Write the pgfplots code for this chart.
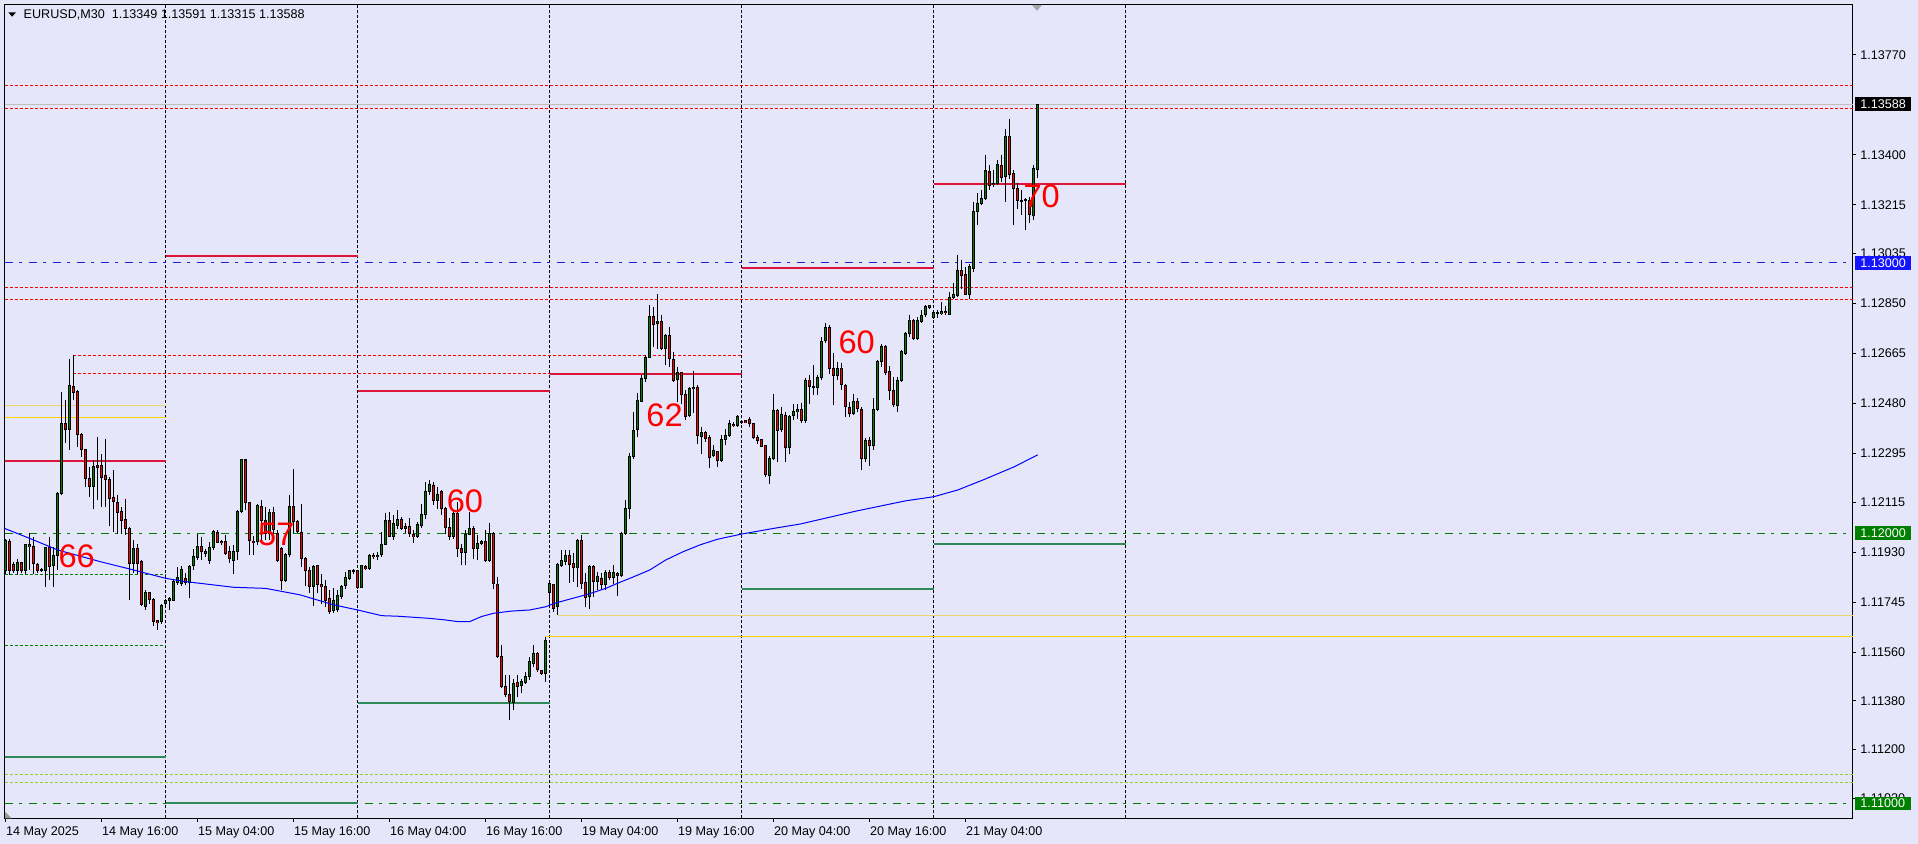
\documentclass[border=0pt]{standalone}
\usepackage{pgfplots}
\pgfplotsset{compat=1.18}
\usepackage{pgfplotstable}
\usepackage{fontspec}
\setmainfont{Liberation Sans}
\definecolor{bg}{RGB}{230,230,250}
\definecolor{mtgreen}{RGB}{0,128,0}
\definecolor{mtred}{RGB}{255,0,0}
\definecolor{crim}{RGB}{220,20,60}
\definecolor{seag}{RGB}{46,139,87}
\definecolor{ygreen}{RGB}{154,205,50}
\definecolor{goldA}{RGB}{255,210,0}
\definecolor{goldB}{RGB}{235,212,110}
\definecolor{lineblue}{RGB}{30,30,210}
\definecolor{boxblue}{RGB}{20,20,255}
\definecolor{boxgreen}{RGB}{0,128,0}

\pgfplotstableread{
x o h l c
-40 1.11864 1.11978 1.11852 1.11975
-37 1.11862 1.11907 1.11846 1.11891
-35 1.11864 1.11963 1.11852 1.11957
-34 1.11951 1.12002 1.11864 1.11957
-31 1.11864 1.11870 1.11858 1.11866
-30 1.11864 1.11951 1.11803 1.11948
-28 1.11883 1.11951 1.11803 1.11920
-27 1.11920 1.12154 1.11864 1.12148
-26 1.12148 1.12524 1.12142 1.12407
-24 1.12385 1.12647 1.12308 1.12545
-18 1.12172 1.12271 1.12092 1.12249
-8 1.11889 1.11975 1.11852 1.11944
-5 1.11729 1.11790 1.11716 1.11784
-1 1.11673 1.11741 1.11667 1.11735
0 1.11741 1.11759 1.11735 1.11753
1 1.11753 1.11766 1.11716 1.11759
2 1.11753 1.11827 1.11753 1.11821
3 1.11817 1.11877 1.11809 1.11837
4 1.11815 1.11877 1.11803 1.11867
6 1.11819 1.11883 1.11759 1.11880
7 1.11880 1.11944 1.11864 1.11913
8 1.11913 1.12000 1.11901 1.11951
10 1.11926 1.11944 1.11913 1.11934
11 1.11901 1.11969 1.11889 1.11948
12 1.11948 1.12012 1.11938 1.12006
17 1.11901 1.11957 1.11852 1.11934
18 1.11934 1.12086 1.11901 1.12080
19 1.12080 1.12277 1.12074 1.12275
23 1.11969 1.12111 1.11957 1.12101
26 1.12000 1.12092 1.11975 1.12076
30 1.11827 1.11926 1.11821 1.11920
31 1.11920 1.12142 1.11913 1.12098
37 1.11805 1.11883 1.11729 1.11879
42 1.11714 1.11796 1.11704 1.11753
43 1.11716 1.11790 1.11710 1.11768
44 1.11766 1.11809 1.11759 1.11805
45 1.11805 1.11858 1.11796 1.11837
46 1.11833 1.11864 1.11827 1.11861
47 1.11861 1.11870 1.11852 1.11864
49 1.11800 1.11883 1.11796 1.11881
51 1.11870 1.11926 1.11864 1.11920
53 1.11916 1.11932 1.11901 1.11920
54 1.11920 1.12006 1.11913 1.11960
55 1.11960 1.12074 1.11957 1.12049
57 1.11988 1.12068 1.11975 1.12037
58 1.12031 1.12086 1.12018 1.12052
60 1.12018 1.12037 1.12000 1.12027
63 1.11987 1.12043 1.11981 1.12031
64 1.12031 1.12111 1.12022 1.12071
65 1.12071 1.12191 1.12055 1.12154
66 1.12154 1.12197 1.12142 1.12179
68 1.12123 1.12172 1.12092 1.12142
72 1.11987 1.12086 1.11981 1.12074
75 1.11929 1.12012 1.11883 1.11997
76 1.11997 1.12080 1.11994 1.12018
78 1.11944 1.11994 1.11903 1.11963
79 1.11963 1.11975 1.11957 1.11971
81 1.11901 1.12037 1.11895 1.12000
87 1.11377 1.11463 1.11346 1.11447
89 1.11439 1.11463 1.11408 1.11451
90 1.11447 1.11488 1.11445 1.11470
91 1.11470 1.11544 1.11457 1.11525
92 1.11521 1.11587 1.11507 1.11556
95 1.11482 1.11618 1.11451 1.11605
96 1.11780 1.11827 1.11729 1.11815
98 1.11729 1.11891 1.11698 1.11886
99 1.11883 1.11938 1.11876 1.11901
100 1.11898 1.11938 1.11883 1.11920
103 1.11876 1.11981 1.11802 1.11973
106 1.11765 1.11883 1.11722 1.11876
108 1.11821 1.11858 1.11790 1.11840
110 1.11809 1.11864 1.11790 1.11855
112 1.11836 1.11883 1.11815 1.11855
114 1.11846 1.12006 1.11840 1.12000
115 1.12000 1.12123 1.11994 1.12092
116 1.12092 1.12296 1.12055 1.12284
117 1.12284 1.12450 1.12277 1.12382
118 1.12382 1.12518 1.12357 1.12490
119 1.12490 1.12586 1.12487 1.12573
120 1.12573 1.12660 1.12561 1.12651
121 1.12651 1.12845 1.12647 1.12801
123 1.12777 1.12888 1.12684 1.12785
125 1.12684 1.12740 1.12623 1.12734
128 1.12567 1.12616 1.12487 1.12595
131 1.12434 1.12542 1.12431 1.12536
132 1.12536 1.12602 1.12444 1.12542
134 1.12361 1.12394 1.12296 1.12376
137 1.12287 1.12327 1.12284 1.12305
139 1.12269 1.12364 1.12265 1.12348
140 1.12348 1.12388 1.12327 1.12361
141 1.12361 1.12419 1.12357 1.12404
143 1.12400 1.12440 1.12394 1.12434
151 1.12216 1.12284 1.12182 1.12277
152 1.12277 1.12515 1.12271 1.12456
154 1.12382 1.12468 1.12376 1.12438
156 1.12320 1.12438 1.12296 1.12434
157 1.12434 1.12478 1.12419 1.12450
158 1.12450 1.12478 1.12425 1.12458
160 1.12419 1.12573 1.12407 1.12567
163 1.12540 1.12586 1.12512 1.12577
164 1.12577 1.12728 1.12567 1.12712
165 1.12712 1.12777 1.12703 1.12762
168 1.12583 1.12635 1.12567 1.12610
172 1.12444 1.12518 1.12438 1.12487
175 1.12278 1.12351 1.12265 1.12345
177 1.12327 1.12500 1.12308 1.12459
178 1.12459 1.12641 1.12454 1.12635
179 1.12635 1.12703 1.12617 1.12691
183 1.12475 1.12580 1.12450 1.12567
184 1.12567 1.12678 1.12561 1.12672
185 1.12666 1.12746 1.12660 1.12740
186 1.12740 1.12808 1.12728 1.12789
188 1.12722 1.12802 1.12715 1.12789
189 1.12786 1.12826 1.12780 1.12808
190 1.12808 1.12845 1.12802 1.12839
191 1.12837 1.12845 1.12832 1.12842
192 1.12800 1.12820 1.12795 1.12817
194 1.12814 1.12857 1.12808 1.12820
196 1.12811 1.12894 1.12808 1.12873
197 1.12873 1.12925 1.12866 1.12882
198 1.12882 1.13030 1.12876 1.12974
201 1.12885 1.12996 1.12869 1.12989
202 1.12980 1.13227 1.12968 1.13190
203 1.13190 1.13258 1.13141 1.13221
204 1.13221 1.13270 1.13215 1.13239
205 1.13239 1.13400 1.13233 1.13344
208 1.13295 1.13381 1.13289 1.13363
210 1.13319 1.13498 1.13227 1.13467
217 1.13178 1.13363 1.13159 1.13350
218 1.13349 1.13591 1.13315 1.13588
}\bull

\pgfplotstableread{
x o h l c
-39 1.11972 1.11978 1.11846 1.11864
-38 1.11886 1.11895 1.11852 1.11864
-36 1.11891 1.11895 1.11852 1.11862
-33 1.11951 1.11988 1.11852 1.11889
-32 1.11886 1.11889 1.11852 1.11862
-29 1.11948 1.11988 1.11827 1.11877
-25 1.12407 1.12493 1.12333 1.12385
-23 1.12545 1.12660 1.12493 1.12520
-22 1.12524 1.12530 1.12320 1.12364
-21 1.12364 1.12370 1.12283 1.12311
-20 1.12311 1.12314 1.12172 1.12203
-19 1.12203 1.12246 1.12135 1.12172
-17 1.12253 1.12357 1.12123 1.12246
-16 1.12253 1.12296 1.12098 1.12209
-15 1.12212 1.12351 1.12098 1.12200
-14 1.12200 1.12209 1.12025 1.12129
-13 1.12135 1.12234 1.12006 1.12117
-12 1.12117 1.12142 1.12000 1.12080
-11 1.12080 1.12098 1.12000 1.12049
-10 1.12052 1.12129 1.11994 1.12018
-9 1.12018 1.12025 1.11753 1.11889
-7 1.11944 1.11963 1.11852 1.11889
-6 1.11895 1.11901 1.11729 1.11735
-4 1.11780 1.11784 1.11741 1.11756
-3 1.11756 1.11759 1.11655 1.11673
-2 1.11676 1.11679 1.11642 1.11671
5 1.11833 1.11852 1.11809 1.11819
9 1.11953 1.11988 1.11901 1.11932
13 1.12002 1.12012 1.11963 1.11965
14 1.11969 1.11975 1.11957 1.11965
15 1.11970 1.11994 1.11920 1.11926
16 1.11932 1.11953 1.11891 1.11907
20 1.12271 1.12277 1.12086 1.12113
21 1.12115 1.12117 1.11920 1.11975
22 1.11972 1.11988 1.11920 1.11968
24 1.12101 1.12123 1.11975 1.12049
25 1.12049 1.12098 1.11975 1.12000
27 1.12076 1.12098 1.11988 1.12012
28 1.12000 1.12012 1.11895 1.11901
29 1.11944 1.11951 1.11790 1.11827
32 1.12098 1.12238 1.12000 1.12043
33 1.12043 1.12049 1.12000 1.12006
34 1.12006 1.12111 1.11877 1.11907
35 1.11907 1.11913 1.11803 1.11864
36 1.11864 1.11877 1.11778 1.11803
38 1.11879 1.11883 1.11778 1.11809
39 1.11809 1.11852 1.11741 1.11803
40 1.11806 1.11827 1.11729 1.11753
41 1.11759 1.11790 1.11701 1.11710
48 1.11861 1.11864 1.11796 1.11800
50 1.11877 1.11883 1.11864 1.11870
52 1.11920 1.11926 1.11907 1.11916
56 1.12049 1.12080 1.11985 1.11988
59 1.12053 1.12061 1.12012 1.12018
61 1.12027 1.12055 1.11987 1.12002
62 1.11994 1.12012 1.11963 1.11987
67 1.12179 1.12191 1.12105 1.12123
69 1.12154 1.12160 1.12068 1.12092
70 1.12092 1.12098 1.12000 1.12022
71 1.12022 1.12055 1.11975 1.11987
73 1.12074 1.12117 1.11913 1.11944
74 1.11944 1.11963 1.11883 1.11929
77 1.12018 1.12027 1.11907 1.11944
80 1.11971 1.12012 1.11895 1.11901
82 1.12000 1.12006 1.11796 1.11815
83 1.11812 1.11839 1.11538 1.11544
84 1.11546 1.11587 1.11427 1.11433
85 1.11433 1.11476 1.11396 1.11402
86 1.11402 1.11476 1.11309 1.11377
88 1.11447 1.11476 1.11396 1.11435
93 1.11556 1.11562 1.11488 1.11494
94 1.11492 1.11494 1.11476 1.11482
97 1.11812 1.11815 1.11710 1.11722
101 1.11920 1.11938 1.11815 1.11886
102 1.11891 1.11926 1.11821 1.11876
104 1.11975 1.11994 1.11796 1.11815
105 1.11817 1.11852 1.11729 1.11765
107 1.11876 1.11883 1.11766 1.11821
109 1.11834 1.11852 1.11790 1.11809
111 1.11855 1.11864 1.11827 1.11836
113 1.11852 1.11858 1.11766 1.11846
122 1.12801 1.12838 1.12690 1.12773
124 1.12785 1.12808 1.12678 1.12684
126 1.12734 1.12764 1.12616 1.12647
127 1.12645 1.12672 1.12561 1.12567
129 1.12595 1.12598 1.12481 1.12512
130 1.12515 1.12530 1.12419 1.12434
133 1.12540 1.12549 1.12333 1.12361
135 1.12372 1.12380 1.12339 1.12351
136 1.12355 1.12364 1.12240 1.12281
138 1.12302 1.12306 1.12246 1.12269
142 1.12404 1.12413 1.12394 1.12400
144 1.12413 1.12415 1.12407 1.12410
145 1.12417 1.12419 1.12407 1.12410
146 1.12419 1.12431 1.12394 1.12407
147 1.12407 1.12407 1.12351 1.12355
148 1.12357 1.12364 1.12333 1.12343
149 1.12348 1.12351 1.12320 1.12323
150 1.12324 1.12327 1.12210 1.12216
153 1.12456 1.12462 1.12265 1.12382
155 1.12438 1.12450 1.12265 1.12320
159 1.12458 1.12481 1.12407 1.12419
161 1.12567 1.12586 1.12481 1.12543
162 1.12543 1.12623 1.12512 1.12540
166 1.12762 1.12771 1.12592 1.12610
167 1.12610 1.12666 1.12475 1.12583
169 1.12610 1.12629 1.12530 1.12549
170 1.12549 1.12555 1.12432 1.12469
171 1.12466 1.12487 1.12432 1.12444
173 1.12487 1.12500 1.12450 1.12462
174 1.12459 1.12469 1.12234 1.12278
176 1.12345 1.12357 1.12247 1.12327
180 1.12691 1.12697 1.12586 1.12598
181 1.12598 1.12617 1.12493 1.12530
182 1.12530 1.12580 1.12469 1.12475
187 1.12789 1.12792 1.12715 1.12722
193 1.12816 1.12826 1.12799 1.12814
195 1.12820 1.12841 1.12808 1.12816
199 1.12974 1.13011 1.12906 1.12956
200 1.12956 1.12987 1.12882 1.12885
206 1.13340 1.13363 1.13270 1.13289
207 1.13295 1.13344 1.13282 1.13289
209 1.13363 1.13400 1.13301 1.13319
211 1.13467 1.13535 1.13313 1.13326
212 1.13330 1.13344 1.13141 1.13276
213 1.13276 1.13295 1.13202 1.13233
214 1.13233 1.13270 1.13178 1.13230
215 1.13236 1.13240 1.13122 1.13233
216 1.13233 1.13245 1.13147 1.13178
}\bear

\newcommand{\sm}{\fontsize{6.3pt}{7.4pt}\selectfont}
\pgfplotsset{
  cwick/.style={draw=none, mark=none, forget plot,
    error bars/.cd, y dir=both, y explicit, error mark=none,
    error bar style={draw=black, solid, line width=0.5pt}},
  cbody/.style={draw=none, mark=none, forget plot,
    error bars/.cd, y dir=both, y explicit, error mark=none,
    error bar style={draw=black, solid, line width=1.55pt}},
  cfill/.style={draw=none, mark=none, forget plot,
    error bars/.cd, y dir=both, y explicit, error mark=none,
    error bar style={draw=#1, solid, line width=0.6pt}},
}

\begin{document}
\begin{tikzpicture}
\useasboundingbox (0,0) rectangle (959pt,422pt);
\fill[bg] (0,0) rectangle (959pt,422pt);
\begin{axis}[
  at={(2.25pt,12.85pt)}, anchor=south west,
  scale only axis, width=924pt, height=406.9pt,
  xmin=-40.3, xmax=421.7, ymin=1.109453, ymax=1.139564,
  axis background/.style={fill=bg},
  axis line style={black, line width=0.5pt},
  clip=false,
  tick align=outside, xtick pos=left, ytick pos=right,
  major tick length=1.75pt,
  every tick/.style={black, line width=0.5pt},
  xtick={-40,-16,8,32,56,80,104,128,152,176,200},
  xticklabels={},
  ytick={1.13770,1.13400,1.13215,1.13035,1.12850,1.12665,1.12480,1.12295,1.12115,1.11930,1.11745,1.11560,1.11380,1.11200,1.11020},
  yticklabels={},
]
% day separators
\foreach \d in {0,48,96,144,192,240}{
  \edef\tmp{\noexpand\addplot[black, line width=0.5pt, dash pattern=on 1.5pt off 1pt, forget plot] coordinates {(\d,1.109453) (\d,1.139564)};}\tmp
}
% full-width lines
\addplot[mtred, line width=0.5pt, dash pattern=on 1.5pt off 1pt] coordinates {(-40.3,1.13655) (421.7,1.13655)};
\addplot[mtred, line width=0.5pt, dash pattern=on 1.5pt off 1pt] coordinates {(-40.3,1.13573) (421.7,1.13573)};
\addplot[mtred, line width=0.5pt, dash pattern=on 1.5pt off 1pt] coordinates {(-40.3,1.12910) (421.7,1.12910)};
\addplot[mtred, line width=0.5pt, dash pattern=on 1.5pt off 1pt] coordinates {(-40.3,1.12863) (421.7,1.12863)};
\addplot[black!25, line width=0.5pt] coordinates {(-40.3,1.13588) (421.7,1.13588)};
\addplot[lineblue, line width=0.5pt, dash pattern=on 4pt off 3.25pt on 1.25pt off 3.5pt] coordinates {(-40.3,1.13000) (421.7,1.13000)};
\addplot[mtgreen, line width=0.5pt, dash pattern=on 4pt off 3.25pt on 1.25pt off 3.5pt] coordinates {(-40.3,1.12000) (421.7,1.12000)};
\addplot[mtgreen, line width=0.5pt, dash pattern=on 4pt off 3.25pt on 1.25pt off 3.5pt] coordinates {(-40.3,1.11000) (421.7,1.11000)};
\addplot[ygreen, line width=0.5pt, dash pattern=on 1.5pt off 1pt] coordinates {(-40.3,1.11108) (421.7,1.11108)};
\addplot[ygreen, line width=0.5pt, dash pattern=on 1.5pt off 1pt] coordinates {(-40.3,1.11078) (421.7,1.11078)};
% partial lines
\addplot[mtred, line width=0.5pt, dash pattern=on 1.5pt off 1pt] coordinates {(-23.2,1.12658) (144,1.12658)};
\addplot[mtred, line width=0.5pt, dash pattern=on 1.5pt off 1pt] coordinates {(-23.2,1.12592) (96,1.12592)};
\addplot[mtgreen, line width=0.5pt, dash pattern=on 1.5pt off 1pt] coordinates {(-40.3,1.11848) (0,1.11848)};
\addplot[mtgreen, line width=0.5pt, dash pattern=on 1.5pt off 1pt] coordinates {(-40.3,1.11585) (0,1.11585)};
\addplot[goldB, line width=0.5pt] coordinates {(-40.3,1.12472) (0,1.12472)};
\addplot[goldA, line width=0.5pt] coordinates {(-40.3,1.12429) (0,1.12429)};
\addplot[goldB, line width=0.55pt] coordinates {(98,1.11697) (421.7,1.11697)};
\addplot[goldA, line width=0.6pt] coordinates {(95,1.11617) (421.7,1.11617)};
% daily high/low lines
\addplot[crim, line width=1.1pt] coordinates {(-40.3,1.12268) (0,1.12268)};
\addplot[crim, line width=1.1pt] coordinates {(0,1.13027) (48,1.13027)};
\addplot[crim, line width=1.1pt] coordinates {(48,1.12527) (96,1.12527)};
\addplot[crim, line width=1.1pt] coordinates {(96,1.12589) (144,1.12589)};
\addplot[crim, line width=1.1pt] coordinates {(144,1.12981) (192,1.12981)};
\addplot[crim, line width=1.1pt] coordinates {(192,1.13293) (240,1.13293)};
\addplot[seag, line width=1pt] coordinates {(-40.3,1.11171) (0,1.11171)};
\addplot[seag, line width=1pt] coordinates {(0,1.11003) (48,1.11003)};
\addplot[seag, line width=1pt] coordinates {(48,1.11372) (96,1.11372)};
\addplot[seag, line width=1pt] coordinates {(144,1.11794) (192,1.11794)};
\addplot[seag, line width=1pt] coordinates {(192,1.11959) (240,1.11959)};
% candles
\addplot[cwick] table[x=x, y expr={(\thisrow{h}+\thisrow{l})/2}, y error expr={(\thisrow{h}-\thisrow{l})/2}] {\bull};
\addplot[cwick] table[x=x, y expr={(\thisrow{h}+\thisrow{l})/2}, y error expr={(\thisrow{h}-\thisrow{l})/2}] {\bear};
\addplot[cbody] table[x=x, y expr={(\thisrow{o}+\thisrow{c})/2}, y error expr={abs(\thisrow{o}-\thisrow{c})/2+0.0000185}] {\bull};
\addplot[cbody] table[x=x, y expr={(\thisrow{o}+\thisrow{c})/2}, y error expr={abs(\thisrow{o}-\thisrow{c})/2+0.0000185}] {\bear};
\addplot[cfill=mtgreen] table[x=x, y expr={(\thisrow{o}+\thisrow{c})/2}, y error expr={max(abs(\thisrow{o}-\thisrow{c})/2-0.0000185,0)}] {\bull};
\addplot[cfill=mtred] table[x=x, y expr={(\thisrow{o}+\thisrow{c})/2}, y error expr={max(abs(\thisrow{o}-\thisrow{c})/2-0.0000185,0)}] {\bear};
% moving average
\addplot[blue, line width=0.5pt] coordinates {(-40.3,1.12018) (-33,1.11975) (-27,1.11938) (-16.4,1.11895) (-8,1.11864) (0,1.11833) (5,1.11821) (17,1.11800) (25,1.11796) (33.6,1.11772) (42,1.11735) (48,1.11716) (54,1.11695) (58,1.11693) (66,1.11685) (70,1.11679) (73,1.11673) (76,1.11673) (79,1.11692) (82,1.11704) (86.5,1.11712) (91,1.11716) (95,1.11728) (97.3,1.11741) (100.7,1.11755) (105.7,1.11775) (110,1.11796) (113,1.11815) (117,1.11839) (121,1.11864) (125,1.11901) (129.4,1.11932) (133.6,1.11957) (138,1.11978) (144,1.11997) (152,1.12018) (158.6,1.12034) (172.6,1.12082) (185,1.12120) (192,1.12135) (198,1.12160) (204.8,1.12200) (212,1.12245) (218,1.12290)};
% big labels
\begin{scope}[every node/.style={text=mtred, inner sep=0pt, font=\fontsize{16.3pt}{18pt}\selectfont}]
\node at (axis cs:-22.25,1.11913) {66};
\node at (axis cs:27.65,1.11996) {57};
\node at (axis cs:74.8,1.12119) {60};
\node at (axis cs:124.7,1.12438) {62};
\node at (axis cs:172.75,1.12706) {60};
\node at (axis cs:219,1.13245) {70};
\end{scope}
% right price labels
\begin{scope}[every node/.style={anchor=west, inner sep=0pt, font=\sm, xshift=3.75pt}]
\node at (axis cs:421.7,1.13770) {1.13770};
\node at (axis cs:421.7,1.13400) {1.13400};
\node at (axis cs:421.7,1.13215) {1.13215};
\node at (axis cs:421.7,1.13035) {1.13035};
\node at (axis cs:421.7,1.12850) {1.12850};
\node at (axis cs:421.7,1.12665) {1.12665};
\node at (axis cs:421.7,1.12480) {1.12480};
\node at (axis cs:421.7,1.12295) {1.12295};
\node at (axis cs:421.7,1.12115) {1.12115};
\node at (axis cs:421.7,1.11930) {1.11930};
\node at (axis cs:421.7,1.11745) {1.11745};
\node at (axis cs:421.7,1.11560) {1.11560};
\node at (axis cs:421.7,1.11380) {1.11380};
\node at (axis cs:421.7,1.11200) {1.11200};
\node at (axis cs:421.7,1.11020) {1.11020};
\end{scope}
\begin{scope}[every node/.style={anchor=west, inner xsep=2.75pt, inner ysep=0pt, minimum height=6.75pt, font=\sm, text=white, xshift=1pt}]
\node[fill=black] at (axis cs:421.7,1.13588) {1.13588};
\node[fill=boxblue] at (axis cs:421.7,1.13000) {1.13000};
\node[fill=boxgreen] at (axis cs:421.7,1.12000) {1.12000};
\node[fill=boxgreen] at (axis cs:421.7,1.11000) {1.11000};
\end{scope}
% date labels
\begin{scope}[every node/.style={anchor=base west, inner sep=0pt, font=\sm, yshift=-8.45pt}]
\node at (axis cs:-40,1.109453) {14 May 2025};
\node at (axis cs:-16,1.109453) {14 May 16:00};
\node at (axis cs:8,1.109453) {15 May 04:00};
\node at (axis cs:32,1.109453) {15 May 16:00};
\node at (axis cs:56,1.109453) {16 May 04:00};
\node at (axis cs:80,1.109453) {16 May 16:00};
\node at (axis cs:104,1.109453) {19 May 04:00};
\node at (axis cs:128,1.109453) {19 May 16:00};
\node at (axis cs:152,1.109453) {20 May 04:00};
\node at (axis cs:176,1.109453) {20 May 16:00};
\node at (axis cs:200,1.109453) {21 May 04:00};
\end{scope}
\end{axis}
% header (drawn over the axis background)
\fill[black] (4.15pt,415.85pt) -- (8pt,415.85pt) -- (6.075pt,413.65pt) -- cycle;
\node[anchor=west, inner sep=0pt, font=\sm] at (11.65pt,414.65pt) {EURUSD,M30\ \ 1.13349 1.13591 1.13315 1.13588};
% small gray markers
\fill[black!35] (516pt,419.5pt) -- (521pt,419.5pt) -- (518.5pt,416.5pt) -- cycle;
\fill[black!40] (2.5pt,16.15pt) -- (2.5pt,12.85pt) -- (5.85pt,12.85pt) -- cycle;
\end{tikzpicture}
\end{document}
